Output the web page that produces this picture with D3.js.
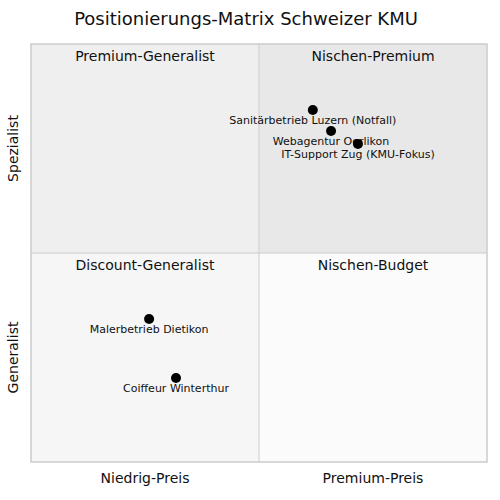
<!DOCTYPE html>
<html><head><meta charset="utf-8">
<script src="https://cdn.jsdelivr.net/npm/d3@7"></script>
<style>body{margin:0;background:#fff}</style></head>
<body><svg id="c" width="500" height="500"></svg>
<script>
const names = ["Sanitärbetrieb Luzern (Notfall)","Webagentur Oerlikon","IT-Support Zug (KMU-Fokus)","Malerbetrieb Dietikon","Coiffeur Winterthur"];
const xVals = [6.18,6.58,7.17,2.59,3.18];
const yVals = [8.42,7.92,7.61,3.42,2.01];
const quadNames = ["Premium-Generalist","Nischen-Premium","Discount-Generalist","Nischen-Budget"];
const quadColors = ["#efefef","#e8e8e8","#f6f6f6","#fbfbfb"];
const xLabels = ["Niedrig-Preis","Premium-Preis"];
const yLabels = ["Generalist","Spezialist"];

const svg = d3.select("#c");
const font = "DejaVu Sans, sans-serif";
const x = d3.scaleLinear().domain([0,10]).range([31,487]);
const y = d3.scaleLinear().domain([0,10]).range([462,44]);
const quads = [[0,5,5,10],[5,10,5,10],[0,5,0,5],[5,10,0,5]];
quads.forEach((q,i)=>{
  svg.append("rect").attr("x",x(q[0])).attr("y",y(q[3])).attr("width",x(q[1])-x(q[0])).attr("height",y(q[2])-y(q[3])).attr("fill",quadColors[i]);
  svg.append("text").attr("x",(x(q[0])+x(q[1]))/2).attr("y",y(q[3])+17).attr("text-anchor","middle")
    .attr("font-family",font).attr("font-size",14).attr("fill","#111").text(quadNames[i]);
});
svg.append("rect").attr("x",x(0)).attr("y",y(10)).attr("width",x(10)-x(0)).attr("height",y(0)-y(10)).attr("fill","none").attr("stroke","#ccc").attr("stroke-width",1.5);
svg.append("line").attr("x1",x(5)).attr("x2",x(5)).attr("y1",y(0)).attr("y2",y(10)).attr("stroke","#ccc");
svg.append("line").attr("x1",x(0)).attr("x2",x(10)).attr("y1",y(5)).attr("y2",y(5)).attr("stroke","#ccc");
svg.append("text").attr("x",246).attr("y",25).attr("text-anchor","middle").attr("font-family",font).attr("font-size",18).attr("fill","#111").text("Positionierungs-Matrix Schweizer KMU");
xLabels.forEach((t,i)=>svg.append("text").attr("x",x(2.5+5*i)).attr("y",483).attr("text-anchor","middle").attr("font-family",font).attr("font-size",14).attr("fill","#111").text(t));
yLabels.forEach((t,i)=>svg.append("text").attr("transform",`translate(18,${y(2.5+5*i)}) rotate(-90)`).attr("text-anchor","middle").attr("font-family",font).attr("font-size",14).attr("fill","#111").text(t));
names.forEach((n,i)=>{
  svg.append("circle").attr("cx",x(xVals[i])).attr("cy",y(yVals[i])).attr("r",5).attr("fill","#000");
  svg.append("text").attr("x",x(xVals[i])).attr("y",y(yVals[i])+14).attr("text-anchor","middle").attr("font-family",font).attr("font-size",11).attr("fill","#111").text(n);
});
</script></body></html>
